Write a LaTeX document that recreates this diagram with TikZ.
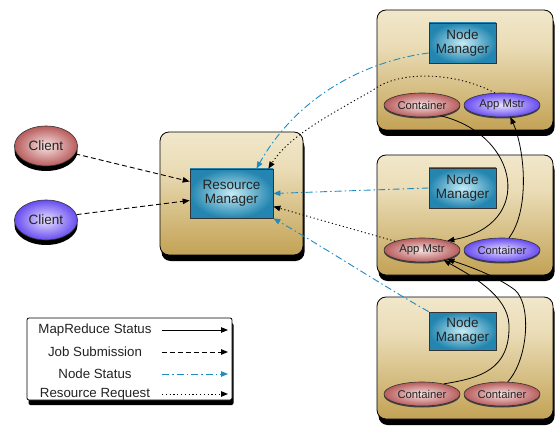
\documentclass[tikz,border=0pt]{standalone}
\usepackage{fontspec}
\setmainfont{Liberation Sans}
\usetikzlibrary{shapes.geometric,shadows,arrows.meta}
\definecolor{nsblue}{RGB}{30,140,192}
\definecolor{gtop}{RGB}{252,249,236}
\definecolor{glight}{RGB}{234,220,182}
\definecolor{gmid}{RGB}{200,170,98}
\definecolor{gdark}{RGB}{164,124,26}
\definecolor{bluein}{RGB}{196,236,246}
\definecolor{blueout}{RGB}{36,134,176}
\definecolor{redin}{RGB}{248,228,228}
\definecolor{redout}{RGB}{184,92,92}
\definecolor{purin}{RGB}{232,226,255}
\definecolor{purout}{RGB}{104,76,240}
\definecolor{txt}{RGB}{35,35,35}
\pgfdeclareverticalshading{goldshade}{100bp}{color(0bp)=(gdark); color(30bp)=(gmid); color(60bp)=(glight); color(100bp)=(gtop)}
\begin{document}
\begin{tikzpicture}[x=1pt,y=-1pt,
  bigbox/.style={draw=black, line width=0.8pt, rounded corners=9pt, shading=goldshade,
    general shadow={fill=black, shadow xshift=1.5pt, shadow yshift=-6pt},
    minimum width=176pt, minimum height=120pt, inner sep=0pt},
  mgr/.style={draw=black!80, line width=0.7pt, shading=radial, inner color=bluein, outer color=blueout,
    align=center, font=\fontsize{13.5}{14.5}\selectfont, text=txt,
    minimum width=67pt, minimum height=40pt, inner sep=0pt},
  ell/.style={ellipse, draw=black!80, line width=0.6pt, minimum width=76pt, minimum height=24pt,
    inner sep=0pt, font=\fontsize{11.3}{12}\selectfont, text=txt,
    general shadow={fill=black!75, shadow yshift=-1.5pt}},
  redell/.style={ell, shading=radial, inner color=redin, outer color=redout},
  purell/.style={ell, shading=radial, inner color=purin, outer color=purout},
  client/.style={minimum width=63pt, minimum height=40pt, font=\fontsize{13.5}{14}\selectfont,
    general shadow={fill=black, shadow yshift=-5pt}},
  legbox/.style={draw=black, line width=0.8pt, fill=white, rounded corners=2pt,
    general shadow={fill=black, shadow xshift=1.5pt, shadow yshift=-5pt},
    minimum width=205pt, minimum height=82pt},
  legtext/.style={font=\fontsize{13.3}{14}\selectfont, text=txt},
  tip/.style={-{Triangle[length=7pt,width=5.5pt]}},
  mr/.style={tip, draw=black, line width=0.8pt},
  job/.style={tip, draw=black, line width=0.9pt, dash pattern=on 5pt off 3pt},
  ns/.style={tip, draw=nsblue, line width=0.9pt, dash pattern=on 7pt off 3pt on 1.5pt off 3pt},
  rr/.style={tip, draw=black, line width=0.9pt, dash pattern=on 1.2pt off 2.6pt}
]
\useasboundingbox (0,0) rectangle (559,430);

% containers
\node[bigbox] (box1) at (465,70) {};
\node[bigbox] (box2) at (465,215) {};
\node[bigbox, minimum height=122pt] (box3) at (465,358) {};
\node[bigbox, minimum width=143pt, minimum height=123pt] (rmbox) at (231.5,193.5) {};

% managers
\node[mgr, minimum width=83pt, minimum height=49pt] (rm) at (231.5,193.5) {Resource\\Manager};
\node[mgr] (nm1) at (462.5,43) {Node\\Manager};
\node[mgr] (nm2) at (462.5,188) {Node\\Manager};
\node[mgr, minimum height=38pt] (nm3) at (462.5,331) {Node\\Manager};

% ellipses
\node[redell] (c1) at (422,105) {Container};
\node[purell] (am1) at (502,105) {App Mstr};
\node[redell] (am2) at (422,250) {App Mstr};
\node[purell] (c2) at (502,250) {Container};
\node[redell] (c3a) at (422,394) {Container};
\node[redell] (c3b) at (502,394) {Container};

% clients
\node[redell, client] (cl1) at (46,146) {Client};
\node[purell, client] (cl2) at (46,220) {Client};

% legend
\node[legbox] (leg) at (129.5,359) {};
\node[legtext] (t1) at (95,330) {MapReduce Status};
\node[legtext] (t2) at (95,352) {Job Submission};
\node[legtext] (t3) at (95,374) {Node Status};
\node[legtext] (t4) at (95,394) {Resource Request};
\coordinate (l1a) at (162,330); \coordinate (l1b) at (228,330);
\coordinate (l2a) at (162,352); \coordinate (l2b) at (228,352);
\coordinate (l3a) at (162,374); \coordinate (l3b) at (228,374);
\coordinate (l4a) at (162,394); \coordinate (l4b) at (228,394);
\draw[mr] (l1a) -- (l1b);
\draw[job] (l2a) -- (l2b);
\draw[ns] (l3a) -- (l3b);
\draw[rr] (l4a) -- (l4b);

% job submission
\draw[job] (cl1.-15) -- ([yshift=12pt]rm.west);
\draw[job] (cl2.10) -- ([yshift=-7pt]rm.west);

% node status
\draw[ns] ([yshift=-10pt]nm1.west) .. controls (360,62) and (295,100) .. ([xshift=25pt]rm.north);
\draw[ns] (nm2.west) -- (rm.east);
\draw[ns] (nm3.north west) .. controls (390,290) and (320,245) .. (rm.south east);

% resource request
\draw[rr] (am1.120) .. controls (455,72) and (400,70) .. (373,90)
  .. controls (330,115) and (290,135) .. ([xshift=-5pt]rm.north east);
\draw[rr] (am2.162) -- ([yshift=-13pt]rm.east);

% mapreduce status
\draw[mr] (c1.-30) .. controls (520,135) and (535,225) .. (am2.20);
\draw[mr] (c2.60) .. controls (530,210) and (525,150) .. (am1.-55);
\draw[mr] (c3a.25) .. controls (480,378) and (510,370) .. (509,325)
  .. controls (508,295) and (470,275) .. (am2.-25);
\draw[mr] (c3b.65) .. controls (528,360) and (532,305) .. (515,290)
  .. controls (495,275) and (465,265) .. (am2.-20);
\end{tikzpicture}
\end{document}
